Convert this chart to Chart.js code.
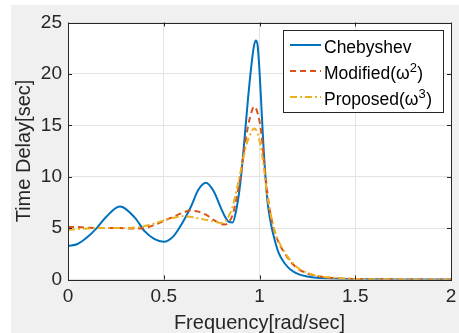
<!DOCTYPE html>
<html>
<head>
<meta charset="utf-8">
<script src="https://cdn.jsdelivr.net/npm/chart.js@4/dist/chart.umd.min.js"></script>
<style>
  html, body { margin: 0; padding: 0; background: #fff; }
  #wrap { width: 459px; height: 333px; }
</style>
</head>
<body>
<div id="wrap"><canvas id="delayChart" width="459" height="333"></canvas></div>
<script>
// frequency samples [rad/sec]
const freq = [0, 0.05, 0.1, 0.15, 0.2, 0.27, 0.35, 0.4, 0.45, 0.5, 0.55, 0.6, 0.64, 0.68, 0.72, 0.76, 0.8, 0.82,
    0.84, 0.86, 0.88, 0.9, 0.92, 0.94, 0.96, 0.97, 0.98, 0.99, 1.0, 1.01, 1.02, 1.04, 1.06, 1.08, 1.1, 1.13, 1.16,
    1.2, 1.25, 1.3, 1.4, 1.5, 1.6, 1.8, 2.0];

// time delay [sec] for each filter
const chebyshev = [3.25, 3.45, 4.1, 5.0, 6.1, 7.1, 6.0, 4.7, 3.95, 3.67, 4.2, 5.6, 7.0, 8.7, 9.4, 8.6, 6.9, 6.1,
    5.6, 5.55, 6.9, 9.4, 13.3, 17.6, 21.2, 22.6, 23.25, 22.8, 20.3, 16.8, 13.2, 7.9, 5.4, 3.8, 2.6, 1.6, 1.0,
    0.55, 0.3, 0.17, 0.07, 0.03, 0.015, 0.005, 0];
const modified = [5.1, 5.1, 5.05, 5.0, 5.0, 5.0, 4.95, 5.0, 5.3, 5.7, 6.1, 6.5, 6.7, 6.6, 6.3, 5.8, 5.4, 5.35,
    5.6, 6.3, 7.9, 10.0, 12.6, 14.9, 16.4, 16.8, 16.7, 16.2, 15.4, 14.2, 12.3, 8.6, 6.1, 4.6, 3.6, 2.6, 1.8,
    1.05, 0.6, 0.35, 0.13, 0.05, 0.02, 0.01, 0];
const proposed = [4.85, 4.9, 4.95, 5.0, 5.0, 5.0, 5.05, 5.2, 5.45, 5.75, 6.0, 6.15, 6.1, 5.95, 5.8, 5.65, 5.5, 5.6,
    6.2, 7.1, 8.7, 10.4, 12.2, 13.6, 14.4, 14.7, 14.6, 14.2, 13.5, 12.6, 11.3, 8.3, 6.2, 4.7, 3.7, 2.7, 1.9,
    1.15, 0.65, 0.38, 0.15, 0.06, 0.03, 0.01, 0];

const seriesLabels = ['Chebyshev', 'Modified(ω²)', 'Proposed(ω³)'];
const xTicks = [0, 0.5, 1, 1.5, 2];
const yTicks = [0, 5, 10, 15, 20, 25];

const FONT = '"Liberation Sans", Arial, Helvetica, sans-serif';
const AXIS_COLOR = '#262626';

function points(values) {
    return freq.map((f, i) => ({ x: f, y: values[i] }));
}

// grey figure background + white axes background
const backgroundPlugin = {
    id: 'figureBackground',
    beforeDraw(chart) {
        const { ctx, chartArea: a } = chart;
        ctx.save();
        ctx.fillStyle = '#ffffff';
        ctx.fillRect(0, 0, chart.width, chart.height);
        ctx.fillStyle = '#f0f0f0';
        ctx.fillRect(11, 5, chart.width - 11, chart.height - 5);
        ctx.fillStyle = '#ffffff';
        ctx.fillRect(a.left, a.top, a.right - a.left, a.bottom - a.top);
        ctx.restore();
    }
};

// box around the axes with inward tick marks on all four sides
const framePlugin = {
    id: 'axesFrame',
    afterDatasetsDraw(chart) {
        const { ctx, chartArea: a, scales } = chart;
        const len = 4;
        ctx.save();
        ctx.strokeStyle = AXIS_COLOR;
        ctx.lineWidth = 1;
        ctx.beginPath();
        xTicks.forEach(v => {
            const x = Math.round(scales.x.getPixelForValue(v)) + 0.5;
            ctx.moveTo(x, a.bottom); ctx.lineTo(x, a.bottom - len);
            ctx.moveTo(x, a.top); ctx.lineTo(x, a.top + len);
        });
        yTicks.forEach(v => {
            const y = Math.round(scales.y.getPixelForValue(v)) + 0.5;
            ctx.moveTo(a.left, y); ctx.lineTo(a.left + len, y);
            ctx.moveTo(a.right, y); ctx.lineTo(a.right - len, y);
        });
        ctx.stroke();
        ctx.strokeRect(Math.round(a.left) + 0.5, Math.round(a.top) + 0.5,
            Math.round(a.right - a.left), Math.round(a.bottom - a.top));
        ctx.restore();
    }
};

// MATLAB style legend inside the top right corner
const legendPlugin = {
    id: 'insideLegend',
    afterDraw(chart) {
        const { ctx } = chart;
        const box = { left: 283.5, top: 30.5, width: 160, height: 82 };
        const rows = [45, 71, 97];
        const size = 17.5;
        ctx.save();
        ctx.fillStyle = '#ffffff';
        ctx.fillRect(box.left, box.top, box.width, box.height);
        ctx.strokeStyle = AXIS_COLOR;
        ctx.lineWidth = 1;
        ctx.strokeRect(box.left, box.top, box.width, box.height);

        chart.data.datasets.forEach((ds, i) => {
            const y = rows[i];
            ctx.strokeStyle = ds.borderColor;
            ctx.lineWidth = ds.borderWidth;
            ctx.setLineDash(ds.borderDash || []);
            ctx.beginPath();
            ctx.moveTo(290, y);
            ctx.lineTo(321, y);
            ctx.stroke();
            ctx.setLineDash([]);

            // label text with superscript digits
            let x = 324;
            const base = y + 7.5;
            ctx.fillStyle = '#000000';
            ctx.textBaseline = 'alphabetic';
            ctx.textAlign = 'left';
            for (const ch of ds.label) {
                if (ch === '²' || ch === '³') {
                    const digit = ch === '²' ? '2' : '3';
                    ctx.font = Math.round(size * 0.72) + 'px ' + FONT;
                    ctx.fillText(digit, x, base - 7);
                    x += ctx.measureText(digit).width + 0.5;
                } else {
                    ctx.font = size + 'px ' + FONT;
                    ctx.fillText(ch, x, base);
                    x += ctx.measureText(ch).width;
                }
            }
        });
        ctx.restore();
    }
};

const colors = ['#0072BD', '#D95319', '#EDB120'];
const dashes = [[], [6, 4], [7, 3, 2, 3]];
const values = [chebyshev, modified, proposed];

new Chart(document.getElementById('delayChart'), {
    type: 'line',
    data: {
        datasets: values.map((v, i) => ({
            label: seriesLabels[i],
            data: points(v),
            borderColor: colors[i],
            backgroundColor: colors[i],
            borderWidth: 2,
            borderDash: dashes[i],
            pointRadius: 0,
            fill: false,
            cubicInterpolationMode: 'monotone',
            order: 3 - i
        }))
    },
    options: {
        responsive: false,
        animation: false,
        events: [],
        layout: { padding: { top: 22.5, right: 8, left: 0, bottom: 0 } },
        plugins: {
            legend: { display: false },
            tooltip: { enabled: false }
        },
        scales: {
            x: {
                type: 'linear',
                min: 0,
                max: 2,
                afterBuildTicks: scale => { scale.ticks = xTicks.map(v => ({ value: v })); },
                afterFit: scale => {
                    scale.height = 53.5;
                    scale.paddingLeft = 0;
                    scale.paddingRight = 0;
                },
                grid: { color: '#e3e3e3', drawTicks: false },
                border: { display: false },
                ticks: {
                    padding: 6,
                    maxRotation: 0,
                    color: AXIS_COLOR,
                    font: { family: FONT, size: 19 },
                    callback: v => String(v)
                },
                title: {
                    display: true,
                    text: 'Frequency[rad/sec]',
                    color: AXIS_COLOR,
                    padding: 0,
                    font: { family: FONT, size: 20, lineHeight: 1.0 }
                }
            },
            y: {
                type: 'linear',
                min: 0,
                max: 25,
                afterBuildTicks: scale => { scale.ticks = yTicks.map(v => ({ value: v })); },
                afterFit: scale => {
                    scale.width = 68;
                    scale.paddingTop = 0;
                    scale.paddingBottom = 0;
                },
                grid: { color: '#e3e3e3', drawTicks: false },
                border: { display: false },
                ticks: {
                    padding: 6,
                    color: AXIS_COLOR,
                    font: { family: FONT, size: 19 },
                    callback: v => String(v)
                },
                title: {
                    display: true,
                    text: 'Time Delay[sec]',
                    color: AXIS_COLOR,
                    padding: { top: 12 },
                    font: { family: FONT, size: 20, lineHeight: 1.2 }
                }
            }
        }
    },
    plugins: [backgroundPlugin, framePlugin, legendPlugin]
});
</script>
</body>
</html>
